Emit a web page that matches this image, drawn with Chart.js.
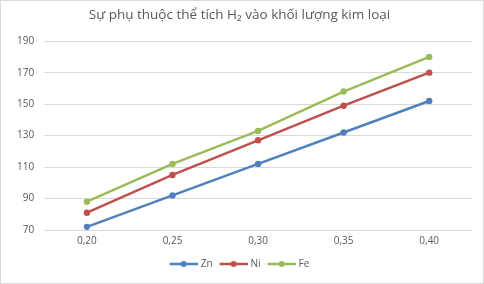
<!DOCTYPE html>
<html lang="vi">
<head>
   <meta charset="UTF-8">
   <title>Sự phụ thuộc thể tích H2 vào khối lượng kim loại</title>
   <script src="https://cdn.jsdelivr.net/npm/chart.js"></script>
   <style>
       body {
           margin: 0;
           padding: 0;
           background: #fff;
       }
       #wrap {
           width: 482px;
           height: 282px;
           border: 1px solid #d9d9d9;
           background: #fff;
       }
   </style>
</head>
<body>
   <div id="wrap"><canvas id="myChart" width="482" height="282"></canvas></div>
   <script>
       const categories = ['0,20', '0,25', '0,30', '0,35', '0,40'];
       const zn = [72, 92, 112, 132, 152];
       const ni = [81, 105, 127, 149, 170];
       const fe = [88, 112, 133, 158, 180];
       const yTicks = [70, 90, 110, 130, 150, 170, 190];

       // legend marker: short line with a dot in the middle, like Excel
       // (a bit wider than pointStyleWidth so the text sits close to it)
       function marker(color) {
           const c = document.createElement('canvas');
           c.width = 30;
           c.height = 8;
           const g = c.getContext('2d');
           g.strokeStyle = color;
           g.lineWidth = 2.5;
           g.beginPath();
           g.moveTo(2, 4);
           g.lineTo(30, 4);
           g.stroke();
           g.fillStyle = color;
           g.beginPath();
           g.arc(16, 4, 3, 0, Math.PI * 2);
           g.fill();
           return c;
       }

       function series(label, data, color) {
           return {
               label: label,
               data: data,
               borderColor: color,
               backgroundColor: color,
               borderWidth: 2.5,
               pointRadius: 3.2,
               pointBorderWidth: 0,
               pointHoverRadius: 3.2,
               pointStyle: 'circle',
               legendMarker: marker(color),
               tension: 0
           };
       }

       const ctx = document.getElementById('myChart').getContext('2d');
       new Chart(ctx, {
           type: 'line',
           data: {
               labels: categories,
               datasets: [
                   series('Zn', zn, '#4F81BD'),
                   series('Ni', ni, '#C0504D'),
                   series('Fe', fe, '#9BBB59')
               ]
           },
           options: {
               responsive: false,
               animation: false,
               layout: { padding: { left: 6, right: 11, top: 0, bottom: 4 } },
               plugins: {
                   title: {
                       display: true,
                       text: 'Sự phụ thuộc thể tích H₂ vào khối lượng kim loại',
                       color: '#595959',
                       font: { family: 'Open Sans', size: 13.5, weight: 'normal' },
                       padding: { top: 6, bottom: 18 }
                   },
                   legend: {
                       position: 'bottom',
                       labels: {
                           usePointStyle: true,
                           pointStyleWidth: 26,
                           color: '#595959',
                           font: { family: 'Open Sans', size: 10 },
                           padding: 7,
                           boxWidth: 26,
                           generateLabels: chart => chart.data.datasets.map((d, i) => ({
                               text: d.label,
                               pointStyle: d.legendMarker,
                               fontColor: '#595959',
                               datasetIndex: i,
                               hidden: false
                           }))
                       }
                   },
                   tooltip: { enabled: false }
               },
               scales: {
                   x: {
                       offset: true,
                       grid: { display: false, drawTicks: false },
                       border: { display: false },
                       ticks: {
                           color: '#595959',
                           font: { family: 'Open Sans', size: 10 },
                           padding: 5
                       }
                   },
                   y: {
                       min: yTicks[0],
                       max: yTicks[yTicks.length - 1],
                       afterBuildTicks: axis => {
                           axis.ticks = yTicks.map(v => ({ value: v }));
                       },
                       grid: { color: '#d9d9d9', drawTicks: false },
                       border: { display: false },
                       ticks: {
                           color: '#595959',
                           font: { family: 'Open Sans', size: 10 },
                           padding: 10
                       }
                   }
               }
           }
       });
   </script>
</body>
</html>
